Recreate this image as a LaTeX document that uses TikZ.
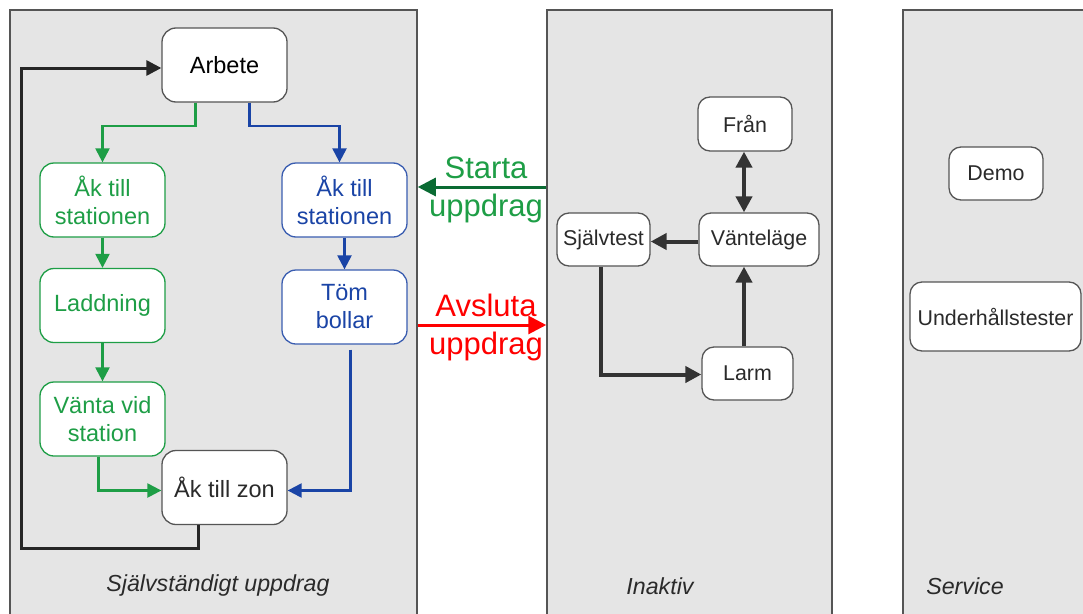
\documentclass[tikz,border=0pt]{standalone}
\usepackage{fontspec}
\setmainfont{Liberation Sans}
\usetikzlibrary{arrows.meta}

\definecolor{panelgra}{HTML}{E5E5E5}
\definecolor{ramgra}{HTML}{555555}
\definecolor{textgra}{HTML}{2A2A2A}
\definecolor{gron}{HTML}{1E9E46}
\definecolor{morkgron}{HTML}{0A6B33}
\definecolor{bla}{HTML}{1A44A6}
\definecolor{blaram}{HTML}{3A5DB0}
\definecolor{pil}{HTML}{333333}

\tikzset{
  panel/.style={draw=ramgra, line width=1.5pt, fill=panelgra, inner sep=0pt},
  ruta/.style={draw=#1, fill=white, line width=1.3pt, rounded corners=14pt,
    inner sep=0pt, align=center, minimum width=125pt, minimum height=74pt,
    font=\fontsize{23.5}{28}\selectfont},
  liten/.style={draw=ramgra, fill=white, line width=1.3pt, rounded corners=12pt,
    inner sep=0pt, align=center, minimum height=53pt, text=textgra,
    font=\fontsize{21.4}{25}\selectfont},
  rubrik/.style={text=textgra, font=\fontsize{23.2}{27}\selectfont\itshape},
  gpil/.style={draw=gron, line width=2.3pt, -{Triangle[length=14pt,width=14pt]}},
  bpil/.style={draw=bla, line width=2.3pt, -{Triangle[length=14pt,width=14pt]}},
  spil/.style={draw=black!85, line width=3pt, -{Triangle[length=15pt,width=15pt]}},
  ipil/.style={draw=pil, line width=4pt, -{Triangle[length=16pt,width=16pt]}}
}

\begin{document}
\begin{tikzpicture}[x=1pt, y=-1pt]
    \clip (0,0) rectangle (1083,613);
    \fill[white] (0,0) rectangle (1083,613);

    % Panelerna
    \node[panel, minimum width=407pt, minimum height=620pt] (sjalv) at (213.5,320) {};
    \node[panel, minimum width=285pt, minimum height=620pt] (inaktiv) at (689.5,320) {};
    \node[panel, minimum width=192pt, minimum height=620pt] (service) at (999,320) {};

    \node[rubrik] (rubsjalv) at (218,585) {Självständigt uppdrag};
    \node[rubrik] (rubinaktiv) at (660,586) {Inaktiv};
    \node[rubrik] (rubservice) at (965,586) {Service};

    % Självständigt uppdrag
    \node[ruta=ramgra, text=black] (arbete) at (224.5,65) {Arbete};
    \node[ruta=gron, text=gron] (gak) at (102.5,200) {Åk till\\stationen};
    \node[ruta=gron, text=gron] (laddning) at (102.5,305.5) {Laddning};
    \node[ruta=gron, text=gron] (vanta) at (102.5,419) {Vänta vid\\station};
    \node[ruta=blaram, text=bla] (bak) at (344.5,200) {Åk till\\stationen};
    \node[ruta=blaram, text=bla] (tom) at (344.5,307) {Töm\\bollar};
    \node[ruta=ramgra, text=textgra] (zon) at (224.5,487.5) {Åk till zon};
    \coordinate (vanster) at (21,548);

    \draw[gpil] ([xshift=-29pt]arbete.south) -- ++(0,23) -| (gak.north);
    \draw[gpil] (gak) -- (laddning);
    \draw[gpil] (laddning) -- (vanta);
    \draw[gpil] ([xshift=-4pt]vanta.south) |- ([yshift=-3pt]zon.west);
    \draw[bpil] ([xshift=25pt]arbete.south) -- ++(0,23) -| ([xshift=-5pt]bak.north);
    \draw[bpil] (bak) -- (tom);
    \draw[bpil] ([xshift=6pt,yshift=-5pt]tom.south) |- ([yshift=-3pt]zon.east);
    \draw[spil] ([xshift=37pt]zon.south west) |- (vanster) |- ([yshift=-3pt]arbete.west);

    % Övergångar mellan panelerna
    \draw[draw=morkgron, line width=3pt, -{Triangle[length=18pt,width=18pt]}]
        ([yshift=133pt]inaktiv.west) -- ([yshift=133pt]sjalv.east);
    \node[text=gron, align=center, font=\fontsize{31}{38}\selectfont] (starta) at (486,190) {Starta\\uppdrag};
    \node[text=red, align=center, font=\fontsize{31}{38}\selectfont] (avsluta) at (486,327) {Avsluta\\uppdrag};
    \draw[draw=red, line width=3pt, -{Triangle[length=18pt,width=18pt]}]
        ([yshift=-5pt]sjalv.east) -- ([yshift=-5pt]inaktiv.west);

    % Inaktiv
    \node[liten, minimum width=94pt, minimum height=54pt] (fran) at (745,124) {Från};
    \node[liten, minimum width=120pt] (vantelage) at (759,239.5) {Vänteläge};
    \node[liten, minimum width=93pt] (sjalvtest) at (603.5,239.5) {Självtest};
    \node[liten, minimum width=91pt] (larm) at (747.5,373.5) {Larm};

    \draw[ipil, {Triangle[length=16pt,width=16pt]}-{Triangle[length=16pt,width=16pt]}]
        (fran.south -| 744,0) -- (vantelage.north -| 744,0);
    \draw[ipil] ([yshift=-2pt]vantelage.west) -- ([yshift=-2pt]sjalvtest.east);
    \draw[ipil] (larm.north -| 744,0) -- (vantelage.south -| 744,0);
    \draw[ipil] ([xshift=-3pt]sjalvtest.south) |- ([yshift=-1pt]larm.west);

    % Service
    \node[liten, minimum width=94pt] (demo) at (996,173.5) {Demo};
    \node[liten, minimum width=171pt, minimum height=69pt] (underhall) at (995.5,316.5) {Underhållstester};
\end{tikzpicture}
\end{document}
